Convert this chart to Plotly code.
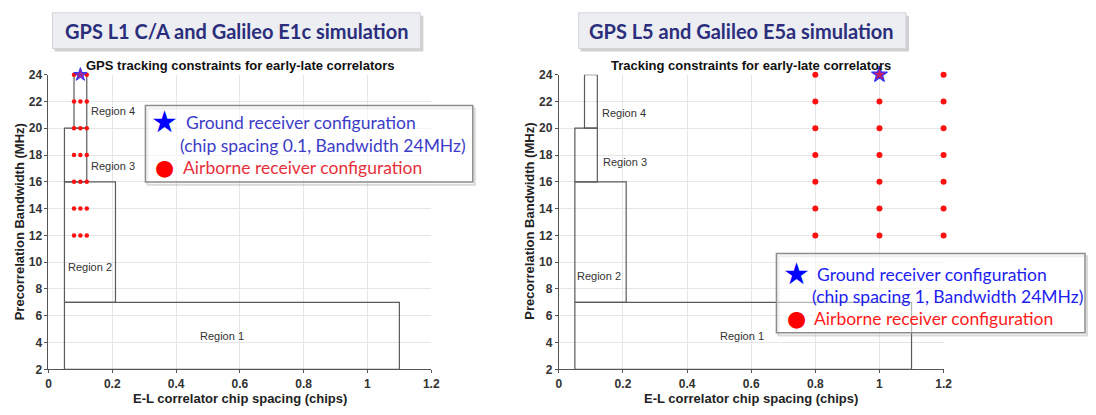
import plotly.graph_objects as go

# ---------------- data ----------------
region_names = ["Region 1", "Region 2", "Region 3", "Region 4"]
region_x0 = [0.05, 0.05, 0.05, 0.08]
region_x1 = [1.10, 0.21, 0.12, 0.12]
region_y0 = [2, 7, 16, 20]
region_y1 = [7, 16, 20, 24]

bandwidths = [12, 14, 16, 18, 20, 22, 24]
left_spacings = [0.08, 0.10, 0.12]
right_spacings = [0.8, 1.0, 1.2]

left_ground = (0.1, 24)
right_ground = (1.0, 24)

x_ticks = [0, 0.2, 0.4, 0.6, 0.8, 1, 1.2]
x_tick_labels = ["0", "0.2", "0.4", "0.6", "0.8", "1", "1.2"]
y_ticks = [2, 4, 6, 8, 10, 12, 14, 16, 18, 20, 22, 24]

FW, FH = 1096, 415
def px(x):
    return x / FW
def py(y):
    return 1 - y / FH

fig = go.Figure()

ARIAL = "Liberation Sans, Arial, sans-serif"
CAL = "Lato, Open Sans, sans-serif"

# region boxes
for xa, ya in [("x", "y"), ("x2", "y2")]:
    for i in range(len(region_names)):
        x0, x1, y0, y1 = region_x0[i], region_x1[i], region_y0[i], region_y1[i]
        fig.add_trace(go.Scatter(
            x=[x0, x1, x1, x0, x0], y=[y0, y0, y1, y1, y0],
            mode="lines", line=dict(color="#5a5a5a", width=1.2),
            xaxis=xa, yaxis=ya, showlegend=False, hoverinfo="skip"))

# airborne dots
def grid(xs, ys):
    gx, gy = [], []
    for yv in ys:
        for xv in xs:
            gx.append(xv)
            gy.append(yv)
    return gx, gy

lx, ly = grid(left_spacings, bandwidths)
fig.add_trace(go.Scatter(x=lx, y=ly, mode="markers",
                         marker=dict(color="#ff1010", size=4.5),
                         xaxis="x", yaxis="y", showlegend=False, cliponaxis=False))
rx, ry = grid(right_spacings, bandwidths)
fig.add_trace(go.Scatter(x=rx, y=ry, mode="markers",
                         marker=dict(color="#ff1010", size=6),
                         xaxis="x2", yaxis="y2", showlegend=False, cliponaxis=False))

# ground stars
fig.add_trace(go.Scatter(x=[left_ground[0]], y=[left_ground[1]], mode="markers",
                         marker=dict(symbol="star", color="#9a2a9a", size=10,
                                     line=dict(color="#3030ff", width=1)),
                         xaxis="x", yaxis="y", showlegend=False, cliponaxis=False))
fig.add_trace(go.Scatter(x=[right_ground[0]], y=[right_ground[1]], mode="markers",
                         marker=dict(symbol="star", color="#c0206a", size=12,
                                     line=dict(color="#3030ff", width=1.2)),
                         xaxis="x2", yaxis="y2", showlegend=False, cliponaxis=False))

axis_common = dict(
    showgrid=True, gridcolor="#e6e6e6", gridwidth=1,
    zeroline=False, showline=True, linecolor="#555555", linewidth=1,
    ticks="outside", ticklen=3, tickcolor="#555555",
    tickfont=dict(family=ARIAL, size=12, color="#333333", weight="bold"),
)

ydom = [py(375), py(70)]
fig.update_layout(
    width=FW, height=FH,
    margin=dict(l=0, r=0, t=0, b=0),
    paper_bgcolor="white", plot_bgcolor="white",
    showlegend=False,
    xaxis=dict(domain=[px(46), px(433)], range=[0, 1.2], tickvals=x_ticks,
               ticktext=x_tick_labels, anchor="y", **axis_common),
    yaxis=dict(domain=ydom, range=[2, 24], tickvals=y_ticks, anchor="x", **axis_common),
    xaxis2=dict(domain=[px(562), px(951)], range=[0, 1.2], tickvals=x_ticks,
                ticktext=x_tick_labels, anchor="y2", **axis_common),
    yaxis2=dict(domain=ydom, range=[2, 24], tickvals=y_ticks, anchor="x2", **axis_common),
)

shapes = []
ann = []

# title boxes
for (x0, x1, text, cx) in [(50, 422, "GPS L1 C/A and Galileo E1c simulation", 236),
                           (582, 913, "GPS L5 and Galileo E5a simulation", 747)]:
    shapes.append(dict(type="rect", xref="paper", yref="paper",
                       x0=px(x0 + 2), x1=px(x1 + 3), y0=py(46), y1=py(9),
                       fillcolor="rgba(120,120,120,0.35)", line=dict(width=0), layer="above"))
    shapes.append(dict(type="rect", xref="paper", yref="paper",
                       x0=px(x0), x1=px(x1), y0=py(43), y1=py(6),
                       fillcolor="#eceef2", line=dict(color="#d0d3da", width=1), layer="above"))
    ann.append(dict(xref="paper", yref="paper", x=px(cx), y=py(25), text=text,
                    showarrow=False, xanchor="center", yanchor="middle",
                    font=dict(family=CAL, size=20, color="#2b2e7c", weight="bold")))

# plot titles
ann.append(dict(xref="paper", yref="paper", x=px(240), y=py(61),
                text="GPS tracking constraints for early-late correlators",
                showarrow=False, xanchor="center", yanchor="middle",
                font=dict(family=ARIAL, size=13, color="#111111", weight="bold")))
ann.append(dict(xref="paper", yref="paper", x=px(756), y=py(61),
                text="Tracking constraints for early-late correlators",
                showarrow=False, xanchor="center", yanchor="middle",
                font=dict(family=ARIAL, size=13, color="#111111", weight="bold")))

# axis titles
for (cx, ycx) in [(240, 17), (756, 532)]:
    ann.append(dict(xref="paper", yref="paper", x=px(cx), y=py(405),
                    text="E-L correlator chip spacing (chips)", showarrow=False,
                    xanchor="center", yanchor="middle",
                    font=dict(family=ARIAL, size=13, color="#222222", weight="bold")))
    ann.append(dict(xref="paper", yref="paper", x=px(ycx), y=py(222),
                    text="Precorrelation Bandwidth (MHz)", showarrow=False, textangle=-90,
                    xanchor="center", yanchor="middle",
                    font=dict(family=ARIAL, size=13, color="#222222", weight="bold")))

# region labels (data coordinates)
lab_font = dict(family=ARIAL, size=11, color="#333333")
left_labels = [("Region 1", 0.543, 4.5, "center"), ("Region 2", 0.056, 9.65, "left"),
               ("Region 3", 0.128, 17.2, "left"), ("Region 4", 0.128, 21.3, "left")]
right_labels = [("Region 1", 0.571, 4.5, "center"), ("Region 2", 0.05, 9.0, "left"),
                ("Region 3", 0.13, 17.5, "left"), ("Region 4", 0.127, 21.1, "left")]
for (t, xv, yv, xa) in left_labels:
    ann.append(dict(xref="x", yref="y", x=xv, y=yv, text=t, showarrow=False,
                    xanchor=xa, yanchor="middle", font=lab_font))
for (t, xv, yv, xa) in right_labels:
    ann.append(dict(xref="x2", yref="y2", x=xv, y=yv, text=t, showarrow=False,
                    xanchor=xa, yanchor="middle", font=lab_font))

# legend boxes
def legend_box(x0, x1, y0, y1, sx, t1x, t2x, t3x, ty1, ty2, ty3, spacing, blue, red):
    shapes.append(dict(type="rect", xref="paper", yref="paper",
                       x0=px(x0 + 2), x1=px(x1 + 2), y0=py(y1 + 3), y1=py(y0 + 3),
                       fillcolor="rgba(0,0,0,0)", line=dict(color="rgba(150,150,150,0.35)", width=2),
                       layer="above"))
    shapes.append(dict(type="rect", xref="paper", yref="paper",
                       x0=px(x0), x1=px(x1), y0=py(y1), y1=py(y0),
                       fillcolor="rgba(255,255,255,0.55)", line=dict(color="#8c8c8c", width=1.5),
                       layer="above"))
    ann.append(dict(xref="paper", yref="paper", x=px(sx), y=py(ty1 - 1), text="★",
                    showarrow=False, xanchor="center", yanchor="middle",
                    font=dict(family="DejaVu Sans", size=30, color="#0000ff")))
    ann.append(dict(xref="paper", yref="paper", x=px(sx), y=py(ty3), text="●",
                    showarrow=False, xanchor="center", yanchor="middle",
                    font=dict(family="DejaVu Sans", size=22, color="#ff0000")))
    ann.append(dict(xref="paper", yref="paper", x=px(t1x), y=py(ty1),
                    text="Ground receiver configuration", showarrow=False,
                    xanchor="left", yanchor="middle", font=dict(family=CAL, size=17.5, color=blue)))
    ann.append(dict(xref="paper", yref="paper", x=px(t2x), y=py(ty2),
                    text=f"(chip spacing {spacing}, Bandwidth 24MHz)", showarrow=False,
                    xanchor="left", yanchor="middle", font=dict(family=CAL, size=17.5, color=blue)))
    ann.append(dict(xref="paper", yref="paper", x=px(t3x), y=py(ty3),
                    text="Airborne receiver configuration", showarrow=False,
                    xanchor="left", yanchor="middle", font=dict(family=CAL, size=17.5, color=red)))

legend_box(144, 475, 102, 181, 163, 183, 177, 180, 120, 143, 166, "0.1", "#3c3cc8", "#e6303a")
legend_box(782, 1094, 255, 337, 802, 821, 816, 818, 277, 300, 322, "1", "#1e1ef0", "#ff1a1a")

fig.update_layout(shapes=shapes, annotations=ann)
fig.write_html("out.html", config={"displayModeBar": False},
               post_script="document.body.style.margin='0';document.body.style.overflow='hidden';")
